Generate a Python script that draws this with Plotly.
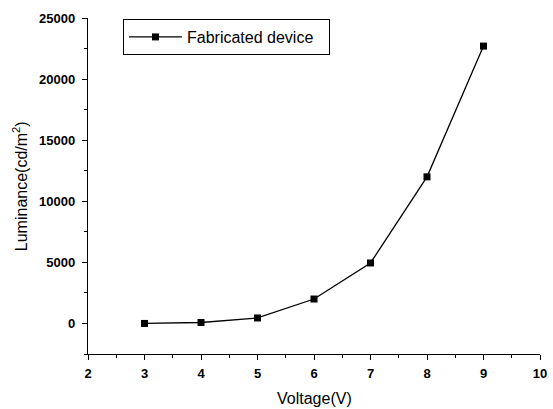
import plotly.graph_objects as go

voltage = [3, 4, 5, 6, 7, 8, 9]
luminance = [0, 80, 450, 2000, 4950, 12000, 22700]
series_name = "Fabricated device"
x_ticks = [2, 3, 4, 5, 6, 7, 8, 9, 10]
y_ticks = [0, 5000, 10000, 15000, 20000, 25000]
x_title = "Voltage(V)"
y_title = "Luminance(cd/m<sup>2</sup>)"

fig = go.Figure()
fig.add_trace(go.Scatter(
    x=voltage, y=luminance, mode="lines+markers", name=series_name,
    line=dict(color="black", width=1.3),
    marker=dict(symbol="square", size=7, color="black"),
))

font_family = "Liberation Sans, Arial, sans-serif"
fig.update_layout(
    width=553, height=409,
    margin=dict(l=88, r=13, t=18, b=55),
    paper_bgcolor="white", plot_bgcolor="white",
    font=dict(family=font_family, color="black", size=12),
    showlegend=True,
    legend=dict(
        x=0.0774, y=0.997, xanchor="left", yanchor="top",
        orientation="h", entrywidth=137, entrywidthmode="pixels",
        bgcolor="white", bordercolor="black", borderwidth=1,
        font=dict(size=16, family=font_family),
        itemwidth=53, tracegroupgap=0,
    ),
    xaxis=dict(
        range=[2, 10], tickvals=x_ticks, ticktext=[str(v) for v in x_ticks],
        automargin=False,
        showgrid=False, zeroline=False, showline=True, linecolor="black", linewidth=1.3,
        ticks="outside", ticklen=5, tickwidth=1, tickcolor="black", ticklabelstandoff=2,
        minor=dict(dtick=0.5, ticks="outside", ticklen=3, tickcolor="black", tickwidth=1),
        tickfont=dict(size=13, family=font_family, weight="bold"),
    ),
    yaxis=dict(
        range=[-2500, 25000], tickvals=y_ticks, ticktext=[str(v) for v in y_ticks],
        automargin=False,
        showgrid=False, zeroline=False, showline=True, linecolor="black", linewidth=1.3,
        ticks="outside", ticklen=5, tickwidth=1, tickcolor="black", ticklabelstandoff=4,
        minor=dict(dtick=2500, ticks="outside", ticklen=3, tickcolor="black", tickwidth=1),
        tickfont=dict(size=13, family=font_family, weight="bold"),
    ),
    annotations=[
        dict(text=x_title, xref="paper", yref="paper", x=0.5, y=-0.131,
             xanchor="center", yanchor="middle", showarrow=False,
             font=dict(size=16, family=font_family)),
        dict(text=y_title, xref="paper", yref="paper", x=-0.150, y=0.5,
             xanchor="center", yanchor="middle", showarrow=False, textangle=-90,
             font=dict(size=16, family=font_family)),
    ],
)

fig.write_html("out.html", config={"displayModeBar": False},
               post_script="document.body.style.margin='0';")
